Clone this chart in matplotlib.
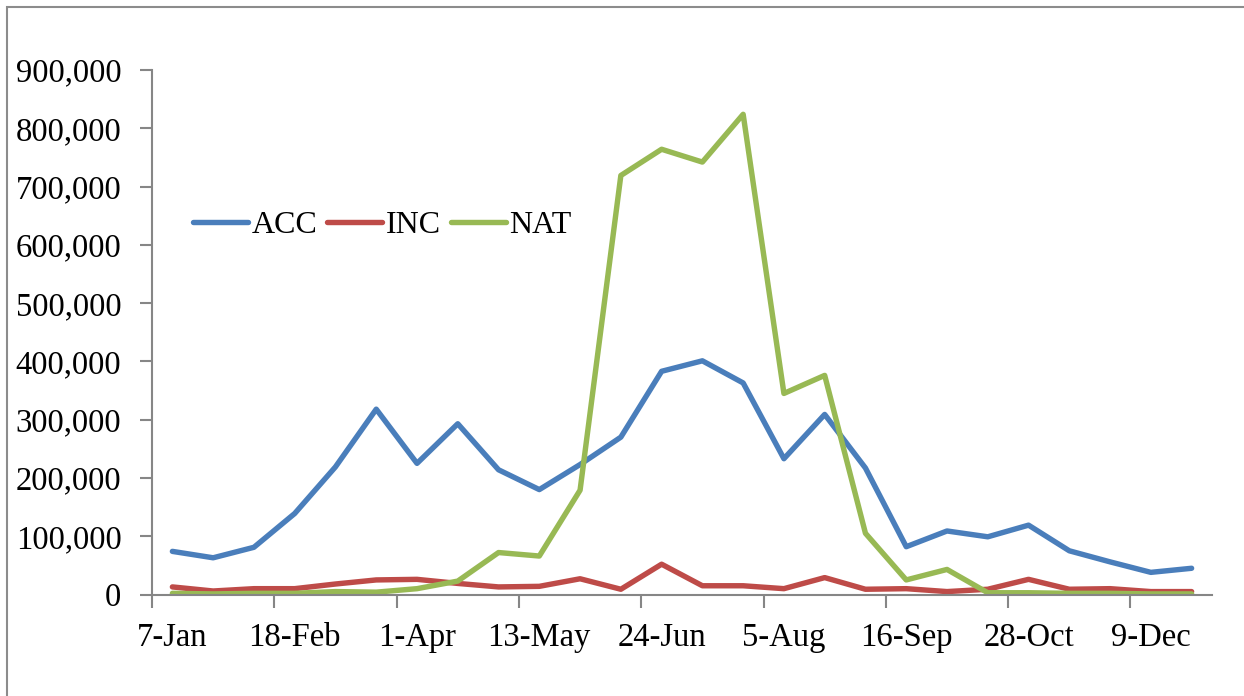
import numpy as np
import matplotlib.pyplot as plt
from matplotlib.patches import Rectangle
from matplotlib.ticker import FuncFormatter

# Biweekly periods
dates = ['7-Jan', '21-Jan', '4-Feb', '18-Feb', '4-Mar', '18-Mar', '1-Apr',
         '15-Apr', '29-Apr', '13-May', '27-May', '10-Jun', '24-Jun', '8-Jul',
         '22-Jul', '5-Aug', '19-Aug', '2-Sep', '16-Sep', '30-Sep', '14-Oct',
         '28-Oct', '11-Nov', '25-Nov', '9-Dec', '23-Dec']

acc = [74000, 63000, 81000, 139000, 219000, 318000, 225000, 293000, 214000,
       180000, 223000, 270000, 383000, 401000, 363000, 233000, 309000, 217000,
       82000, 109000, 99000, 119000, 75000, 56000, 38000, 45000]
inc = [13000, 6000, 10000, 10000, 18000, 25000, 26000, 19000, 13000, 14000,
       27000, 9000, 52000, 15000, 15000, 10000, 29000, 9000, 10000, 5000,
       9000, 26000, 9000, 10000, 5000, 5000]
nat = [2000, 1000, 2000, 2000, 5000, 4000, 10000, 23000, 72000, 66000,
       179000, 719000, 764000, 742000, 824000, 345000, 376000, 105000, 25000,
       43000, 3000, 3000, 2000, 2000, 1000, 1000]

series = [('ACC', acc, '#4A7EBB'), ('INC', inc, '#BE4B48'), ('NAT', nat, '#98B954')]

plt.rcParams['font.family'] = ['Liberation Serif', 'DejaVu Serif']
axis_grey = '#868686'

fig = plt.figure(figsize=(12.44, 6.96), dpi=100)
ax = fig.add_axes([152 / 1244, 1 - 594.5 / 696, 1060 / 1244, 524.5 / 696])

x = np.arange(len(dates))
for name, vals, col in series:
    ax.plot(x, vals, color=col, lw=3.9, label=name,
            solid_capstyle='round', solid_joinstyle='round')

ax.set_xlim(-0.5, len(dates) - 0.5)
ax.set_ylim(0, 900000)
ax.set_yticks(np.arange(0, 900001, 100000))
ax.yaxis.set_major_formatter(FuncFormatter(lambda v, p: f'{int(v):,}'))

# tick marks between categories, labels under every third point
ax.set_xticks(np.arange(-0.5, len(dates) - 1, 3))
ax.set_xticklabels([])
ax.set_xticks(x[::3], minor=True)
ax.set_xticklabels(dates[::3], minor=True)
ax.tick_params(axis='x', which='major', length=9, width=1.5, color=axis_grey, direction='out')
ax.tick_params(axis='x', which='minor', length=0, pad=20, labelsize=23.5)
ax.tick_params(axis='y', length=9, width=1.5, color=axis_grey, pad=13, labelsize=23.5)

for side in ['top', 'right']:
    ax.spines[side].set_visible(False)
for side in ['left', 'bottom']:
    ax.spines[side].set_color(axis_grey)
    ax.spines[side].set_linewidth(1.5)

leg = ax.legend(loc='center left', bbox_to_anchor=(193 / 1244, 1 - 225 / 696),
                bbox_transform=fig.transFigure, ncol=3, frameon=False,
                fontsize=23, handlelength=1.72, handletextpad=0.12,
                columnspacing=0.3, borderaxespad=0, borderpad=0)

# outer frame around the chart
fig.patches.append(Rectangle((7 / 1244, -0.05), 1.2, 1 - 7 / 696 + 0.05,
                             transform=fig.transFigure, fill=False,
                             edgecolor='#8c8c8c', lw=1.5))

fig.savefig('out.png', dpi=100)
